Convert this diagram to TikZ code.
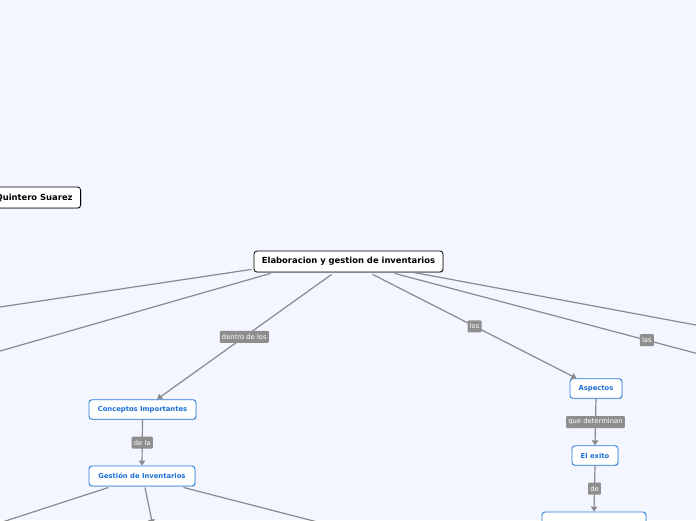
\documentclass[tikz,border=0pt]{standalone}
\usepackage{fontspec}
\setmainfont{DejaVu Sans}
\usetikzlibrary{arrows.meta,calc,shadows}
\definecolor{bgc}{HTML}{F3F6FE}
\definecolor{linec}{HTML}{8A8A8E}
\definecolor{labc}{HTML}{8E8E8E}
\definecolor{bluec}{HTML}{2A7DE1}
\definecolor{bluet}{HTML}{1A6FD6}
\tikzset{
  mainbox/.style={draw=black, fill=white, line width=0.8pt, rounded corners=3pt,
    inner sep=0pt, font=\fontsize{8.4}{9}\selectfont\bfseries,
    drop shadow={shadow xshift=0.7pt, shadow yshift=-0.9pt, opacity=0.35}},
  bluebox/.style={draw=bluec, fill=white, line width=0.9pt, rounded corners=3pt,
    inner sep=0pt, text=bluet, font=\fontsize{6.8}{7.5}\selectfont\bfseries,
    drop shadow={shadow xshift=0.7pt, shadow yshift=-0.9pt, opacity=0.3}},
  lab/.style={fill=labc, text=white, rounded corners=1pt, inner xsep=2.2pt,
    inner ysep=0pt, minimum height=12pt, font=\fontsize{6.8}{7.5}\selectfont},
  conn/.style={draw=linec, line width=1.2pt},
  arr/.style={conn, -{Triangle[length=5pt,width=6.5pt]}},
}
\begin{document}
\begin{tikzpicture}[x=1pt,y=-1pt]
\fill[bgc] (0,0) rectangle (696,520);
\useasboundingbox (0,0) rectangle (696,520);
\clip (0,0) rectangle (696,520);

% nodes
\node[mainbox, minimum width=189pt, minimum height=21pt] (c) at (348.5,261.5) {Elaboracion y gestion de inventarios};
\node[mainbox, anchor=east, minimum height=21pt, inner xsep=8pt] (q) at (81,197.5) {Quintero Suarez};

\node[bluebox, minimum width=107pt, minimum height=19.5pt] (ci) at (142.5,409.5) {Conceptos Importantes};
\node[bluebox, minimum width=106pt, minimum height=20pt] (gi) at (142,476) {Gestión de Inventarios};
\node[bluebox, minimum width=52pt, minimum height=19.5pt] (as) at (596,388.5) {Aspectos};
\node[bluebox, minimum width=46pt, minimum height=19.5pt] (ex) at (595,455.5) {El exito};
\node[bluebox, minimum width=104pt, minimum height=20pt] (bt) at (594,522) {};

% off-canvas ends
\coordinate (l1) at (-10,308.5);
\coordinate (l2) at (-10,353.9);
\coordinate (r1) at (706,326.9);
\coordinate (r2) at (899,407);
\coordinate (g1) at (-10,526);
\coordinate (g2) at (152.6,524.5);
\coordinate (g3) at (330,525.2);

% connectors from the central node
\draw[conn] ($(c.south west)+(-2,-3)$) -- (l1);
\draw[conn] ($(c.south west)+(17,1)$) -- (l2);
\draw[arr] ($(c.south west)+(78,2)$) -- node[lab]{dentro de los} ($(ci.north)+(14.5,0)$);
\draw[arr] ($(c.south west)+(119,2)$) -- node[lab]{los} ($(as.north west)+(7,0)$);
\draw[conn] ($(c.south west)+(141,1)$) -- node[lab]{las} (r2);
\draw[conn] ($(c.south east)+(-30,0)$) -- (r1);

% lower connectors
\draw[arr] (ci.south) -- node[lab]{de la} (gi.north);
\draw[arr] (as.south) -- node[lab]{que determinan} (ex.north);
\draw[arr] (ex.south) -- node[lab]{de} (bt.north);
\draw[conn] ($(gi.south west)+(20,1)$) -- (g1);
\draw[arr] ($(gi.south)+(3,1)$) -- (g2);
\draw[conn] ($(gi.south east)+(-12,1)$) -- (g3);
\end{tikzpicture}
\end{document}
